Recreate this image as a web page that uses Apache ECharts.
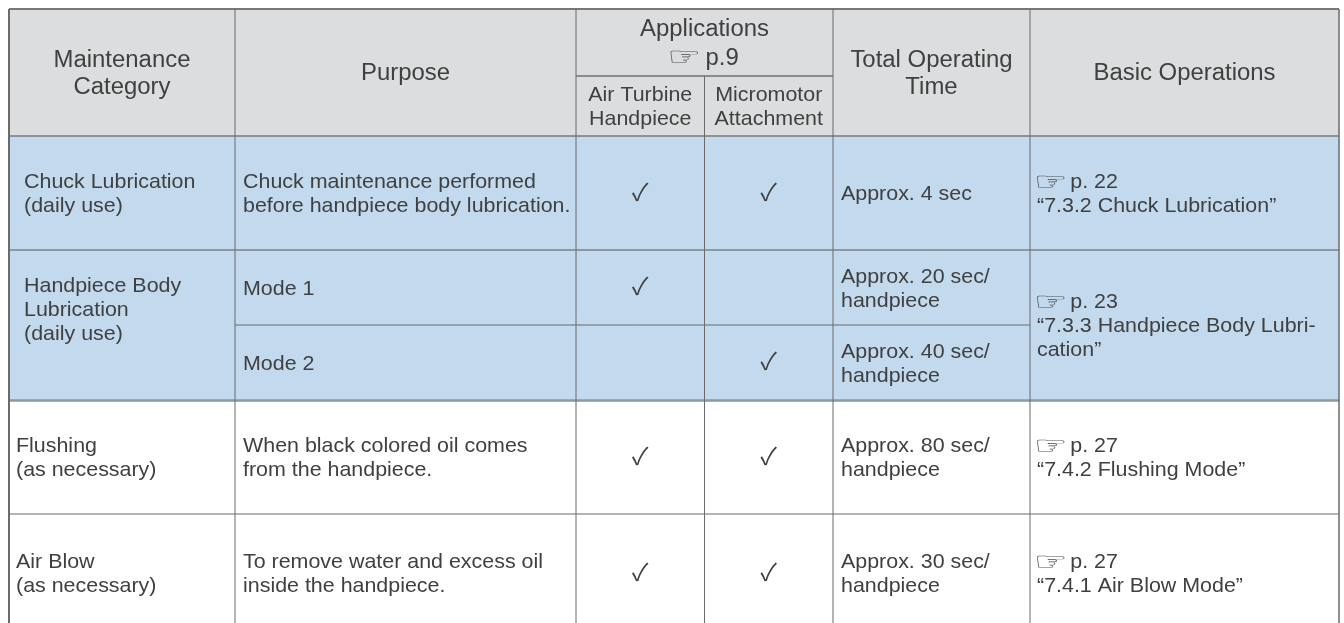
<!DOCTYPE html>
<html>
<head>
<meta charset="utf-8">
<style>html,body{margin:0;padding:0;background:#fff}#main{width:1344px;height:623px}</style>
<script src="https://cdn.jsdelivr.net/npm/echarts@6/dist/echarts.min.js"></script>
</head>
<body>
<div id="main"></div>
<script>
// table contents
const HAND = '☞';
const headers = ['Maintenance\nCategory', 'Purpose', 'Applications\np.9', 'Total Operating\nTime', 'Basic Operations'];
const subHeaders = ['Air Turbine\nHandpiece', 'Micromotor\nAttachment'];
const categories = ['Chuck Lubrication\n(daily use)', 'Handpiece Body\nLubrication\n(daily use)', 'Flushing\n(as necessary)', 'Air Blow\n(as necessary)'];
const purposes = ['Chuck maintenance performed\nbefore handpiece body lubrication.', 'Mode 1', 'Mode 2', 'When black colored oil comes\nfrom the handpiece.', 'To remove water and excess oil\ninside the handpiece.'];
const airTurbine = [1, 1, 0, 1, 1];
const micromotor = [1, 0, 1, 1, 1];
const totalTimes = ['Approx. 4 sec', 'Approx. 20 sec/\nhandpiece', 'Approx. 40 sec/\nhandpiece', 'Approx. 80 sec/\nhandpiece', 'Approx. 30 sec/\nhandpiece'];
const basicPages = ['p. 22', 'p. 23', 'p. 27', 'p. 27'];
const basicRefs = ['“7.3.2 Chuck Lubrication”', '“7.3.3 Handpiece Body Lubri-\ncation”', '“7.4.2 Flushing Mode”', '“7.4.1 Air Blow Mode”'];

// layout of the grid, in axis units (pixels here)
const colX = [9, 235, 576, 704.5, 833, 1030, 1339];
const rowY = [9, 76, 136, 250, 325, 400.5, 514, 632];

const FONT = '"Liberation Sans", "DejaVu Sans", sans-serif';
const TEXT = '#404040';
const STRETCH = 1.04; // the reference text is a little wider than it is tall
const BODY = 20.6, HEAD = 23;
const TEXT_NUDGE = 1.5;
const cells = [];
function cell(c0, c1, r0, r1, text, o) {
  cells.push(Object.assign({ c0, c1, r0, r1, text, align: 'left', size: BODY, lh: 24, dy: 0 }, o));
}
const head = { align: 'center', size: HEAD, lh: 27, fill: '#dcddde' };
const GREY = '#dcddde';
cell(0, 1, 0, 2, headers[0], head);
cell(1, 2, 0, 2, headers[1], head);
cell(2, 4, 0, 1, headers[2].replace('p.9', '{gap| }p.9'), Object.assign({}, head, { lh: 29, hand: [-20.5, 15.5] }));
cell(2, 3, 1, 2, subHeaders[0], { align: 'center', fill: GREY });
cell(3, 4, 1, 2, subHeaders[1], { align: 'center', fill: GREY });
cell(4, 5, 0, 2, headers[3], head);
cell(5, 6, 0, 2, headers[4], head);

const BLUE = '#c3d9ed';
const rowSpans = [[2, 3], [3, 4], [4, 5], [5, 6], [6, 7]];
const rowFill = [BLUE, BLUE, BLUE, null, null];
cell(0, 1, 2, 3, categories[0], { fill: BLUE, pad: 15 });
cell(0, 1, 3, 5, categories[1], { fill: BLUE, pad: 15, dy: -16 });
cell(0, 1, 5, 6, categories[2], { pad: 7 });
cell(0, 1, 6, 7, categories[3], { pad: 7 });
rowSpans.forEach(function (s, i) {
  const fill = rowFill[i];
  cell(1, 2, s[0], s[1], purposes[i], { fill, pad: 8 });
  cell(2, 3, s[0], s[1], airTurbine[i] ? '✓' : '', { fill, align: 'center', check: true });
  cell(3, 4, s[0], s[1], micromotor[i] ? '✓' : '', { fill, align: 'center', check: true });
  cell(4, 5, s[0], s[1], totalTimes[i], { fill, pad: 8 });
});
const basicSpans = [[2, 3], [3, 5], [5, 6], [6, 7]];
basicSpans.forEach(function (s, i) {
  const lines = basicRefs[i].split('\n').length + 1;
  cell(5, 6, s[0], s[1], '{gap| }' + basicPages[i] + '\n' + basicRefs[i], {
    fill: i < 2 ? BLUE : null, pad: 7, hand: [20.5, 14 - lines * 12]
  });
});

// rules: [x0 col, x1 col, row, width, colour] and vertical [col, r0, r1, width]
const THIN = '#6a6b6d', THICK = '#8d989f';
const hLines = [
  [0, 6, 0, 2, '#77787a'], [2, 4, 1, 2, '#8a8b8d'], [0, 6, 2, 1.5, '#77787a'],
  [0, 6, 3, 2, THICK], [1, 5, 4, 1, THIN], [0, 6, 5, 2.5, THICK], [0, 6, 6, 1, THIN]
];
const vLines = [
  [0, 0, 7, 2], [1, 0, 7, 1], [2, 0, 7, 1], [3, 1, 7, 1], [4, 0, 7, 1], [5, 0, 7, 1], [6, 0, 7, 1.5]
];

const chart = echarts.init(document.getElementById('main'));

function renderCell(params, api) {
  const d = cells[params.dataIndex];
  const a = api.coord([colX[d.c0], rowY[d.r0]]);
  const b = api.coord([colX[d.c1], rowY[d.r1]]);
  const children = [];
  if (d.fill) {
    children.push({ type: 'rect', shape: { x: a[0], y: a[1], width: b[0] - a[0], height: b[1] - a[1] }, style: { fill: d.fill } });
  }
  const midY = (a[1] + b[1]) / 2;
  if (d.text) {
    const x = d.align === 'center' ? (a[0] + b[0]) / 2 : a[0] + (d.pad || 0);
    children.push({
      type: 'text',
      x: x, y: midY + d.dy + (d.check ? -1.5 : TEXT_NUDGE),
      scaleX: d.check ? 1 : STRETCH,
      style: {
        text: d.text, x: 0, y: 0,
        align: d.align, verticalAlign: 'middle',
        font: d.check ? '24px "Noto Sans CJK JP"' : d.size + 'px ' + FONT,
        lineHeight: d.lh, fill: TEXT,
        rich: { gap: { width: d.size === BODY ? 32 : 34, lineHeight: d.lh, font: d.size + 'px ' + FONT } }
      }
    });
  }
  if (d.hand) {
    // pointing hand, drawn long and low like the reference glyph
    const hx = d.align === 'center' ? (a[0] + b[0]) / 2 + d.hand[0] : a[0] + d.hand[0];
    children.push({
      type: 'text',
      x: hx, y: midY + d.hand[1],
      scaleX: 1.5,
      style: {
        text: HAND, x: 0, y: 0, align: 'center', verticalAlign: 'middle',
        font: '25px "DejaVu Sans"', fill: '#505050'
      }
    });
  }
  return { type: 'group', children };
}

function renderRules(params, api) {
  const children = [];
  hLines.forEach(function (l) {
    const a = api.coord([colX[l[0]], rowY[l[2]]]);
    const b = api.coord([colX[l[1]], rowY[l[2]]]);
    children.push({ type: 'line', shape: { x1: a[0], y1: a[1], x2: b[0], y2: b[1] }, style: { stroke: l[4], lineWidth: l[3] } });
  });
  vLines.forEach(function (l) {
    const a = api.coord([colX[l[0]], rowY[l[1]]]);
    const b = api.coord([colX[l[0]], rowY[l[2]]]);
    children.push({ type: 'line', shape: { x1: a[0], y1: a[1], x2: b[0], y2: b[1] }, style: { stroke: THIN, lineWidth: l[3] } });
  });
  return { type: 'group', children };
}

chart.setOption({
  animation: false,
  backgroundColor: '#ffffff',
  grid: { left: 0, right: 0, top: 0, bottom: 0 },
  xAxis: { type: 'value', min: 0, max: 1344, show: false },
  yAxis: { type: 'value', min: 0, max: 623, inverse: true, show: false },
  series: [
    {
      type: 'custom', clip: false, silent: true,
      renderItem: renderCell,
      data: cells.map(function (d, i) { return [i]; }),
      encode: { x: 0 }
    },
    {
      type: 'custom', clip: false, silent: true, z: 3,
      renderItem: renderRules,
      data: [[0]],
      encode: { x: 0 }
    }
  ]
});
</script>
</body>
</html>
